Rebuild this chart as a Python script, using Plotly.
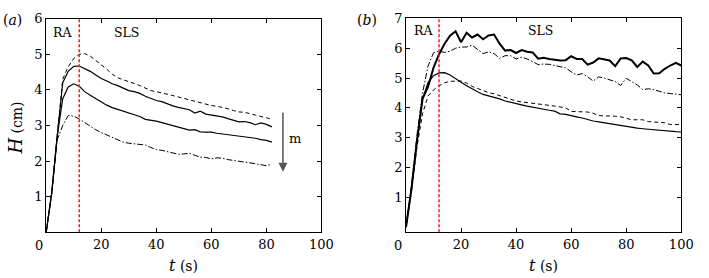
import plotly.graph_objects as go

# ---------------- data ----------------
t_a = list(range(0, 83, 2))
a_dashed = [0, 1.1, 2.7, 4.3, 4.65, 4.88, 5.0, 5.02, 4.95, 4.83, 4.7, 4.58, 4.44, 4.34, 4.28, 4.24,
            4.18, 4.12, 4.05, 3.98, 3.95, 3.92, 3.88, 3.84, 3.8, 3.76, 3.72, 3.68, 3.63, 3.59, 3.56,
            3.54, 3.51, 3.47, 3.42, 3.38, 3.37, 3.34, 3.29, 3.25, 3.22, 3.16]
a_solid_hi = [0, 1.1, 2.7, 4.2, 4.52, 4.66, 4.67, 4.6, 4.52, 4.42, 4.32, 4.25, 4.17, 4.12, 4.05, 3.98,
              3.95, 3.9, 3.82, 3.75, 3.7, 3.67, 3.6, 3.55, 3.51, 3.48, 3.44, 3.35, 3.4, 3.32, 3.3,
              3.27, 3.24, 3.19, 3.15, 3.1, 3.11, 3.08, 3.02, 3.07, 3.03, 2.96]
a_solid_lo = [0, 1.1, 2.7, 3.75, 4.08, 4.17, 4.1, 3.95, 3.85, 3.75, 3.65, 3.57, 3.5, 3.45, 3.38, 3.33,
              3.29, 3.25, 3.17, 3.15, 3.12, 3.08, 3.04, 3.0, 2.95, 2.91, 2.87, 2.88, 2.82, 2.81, 2.81,
              2.78, 2.76, 2.75, 2.73, 2.69, 2.68, 2.67, 2.64, 2.6, 2.58, 2.53]
a_dashdot = [0, 1.1, 2.6, 3.0, 3.28, 3.26, 3.18, 3.08, 2.97, 2.88, 2.8, 2.73, 2.65, 2.6, 2.53, 2.5,
             2.48, 2.47, 2.45, 2.38, 2.32, 2.3, 2.26, 2.22, 2.19, 2.2, 2.22, 2.16, 2.11, 2.1, 2.06,
             2.09, 2.08, 2.04, 2.01, 1.98, 1.97, 1.95, 1.93, 1.9, 1.87, 1.91]

t_b = list(range(0, 101, 2))
b_thick = [0, 1.3, 2.9, 4.3, 4.7, 5.35, 5.8, 6.15, 6.42, 6.57, 6.2, 6.52, 6.36, 6.46, 6.3, 6.43,
           6.46, 6.15, 5.92, 5.94, 5.84, 5.94, 5.88, 5.86, 5.65, 5.68, 5.64, 5.61, 5.59, 5.6, 5.73,
           5.64, 5.64, 5.45, 5.52, 5.66, 5.63, 5.59, 5.4, 5.66, 5.67, 5.59, 5.37, 5.55, 5.42, 5.15,
           5.16, 5.31, 5.42, 5.51, 5.42]
b_dashdot = [0, 1.4, 3.1, 4.5, 5.4, 5.85, 5.9, 5.86, 5.9, 6.0, 6.04, 6.04, 6.1, 5.96, 5.82, 5.88,
             5.82, 5.66, 5.75, 5.75, 5.64, 5.7, 5.64, 5.55, 5.45, 5.47, 5.46, 5.42, 5.38, 5.34, 5.21,
             5.1, 5.15, 5.04, 4.9, 5.04, 5.0, 4.95, 4.88, 4.75, 4.99, 4.88, 4.77, 4.61, 4.64, 4.61,
             4.55, 4.5, 4.48, 4.46, 4.44]
b_solid = [0, 1.3, 2.9, 4.3, 4.85, 5.08, 5.17, 5.18, 5.1, 4.99, 4.86, 4.74, 4.63, 4.54, 4.45, 4.4,
           4.36, 4.3, 4.23, 4.18, 4.14, 4.1, 4.06, 4.02, 3.98, 3.96, 3.92, 3.89, 3.8, 3.78, 3.73,
           3.7, 3.66, 3.6, 3.56, 3.53, 3.5, 3.47, 3.44, 3.41, 3.36, 3.34, 3.32, 3.3, 3.28, 3.27,
           3.26, 3.24, 3.22, 3.2, 3.19]
b_dashed = [0, 1.2, 2.7, 3.8, 4.4, 4.6, 4.74, 4.84, 4.89, 4.9, 4.9, 4.83, 4.72, 4.65, 4.57, 4.51,
            4.47, 4.41, 4.35, 4.28, 4.23, 4.2, 4.18, 4.15, 4.12, 4.1, 4.08, 4.06, 4.03, 4.0, 3.88,
            3.88, 3.88, 3.86, 3.82, 3.74, 3.73, 3.73, 3.72, 3.7, 3.65, 3.6, 3.6, 3.6, 3.54, 3.52,
            3.52, 3.5, 3.44, 3.44, 3.44]

t_transition = 12
x_ticks = [0, 20, 40, 60, 80, 100]
ya_ticks = [1, 2, 3, 4, 5, 6]
yb_ticks = [1, 2, 3, 4, 5, 6, 7]

FONT = "DejaVu Serif, serif"
W, H = 709, 278

fig = go.Figure()

def line(x, y, xa, ya, dash="solid", width=1.0):
    fig.add_trace(go.Scatter(x=x, y=y, xaxis=xa, yaxis=ya, mode="lines",
                             line=dict(color="black", width=width, dash=dash),
                             showlegend=False, hoverinfo="skip"))

DASH = "4px,3px"
DASHDOT = "6px,2px,1.5px,2px"

line(t_a, a_dashed, "x", "y", DASH, 1.0)
line(t_a, a_solid_hi, "x", "y", "solid", 1.2)
line(t_a, a_solid_lo, "x", "y", "solid", 1.2)
line(t_a, a_dashdot, "x", "y", DASHDOT, 1.0)

line(t_b, b_dashed, "x2", "y2", DASH, 1.0)
line(t_b, b_solid, "x2", "y2", "solid", 1.2)
line(t_b, b_dashdot, "x2", "y2", DASHDOT, 1.0)
line(t_b, b_thick, "x2", "y2", "solid", 2.0)

# red transition lines
fig.add_trace(go.Scatter(x=[t_transition, t_transition], y=[0, 6], xaxis="x", yaxis="y",
                         mode="lines", line=dict(color="#ff1a1a", width=1.5, dash="3px,2px"),
                         showlegend=False, hoverinfo="skip"))
fig.add_trace(go.Scatter(x=[t_transition, t_transition], y=[-0.17, 7], xaxis="x2", yaxis="y2",
                         mode="lines", line=dict(color="#ff1a1a", width=1.5, dash="3px,2px"),
                         showlegend=False, hoverinfo="skip"))

def px_x(p):
    return p / W

def px_y(p):
    return 1 - p / H

axis_common = dict(showgrid=False, zeroline=False, showline=True, linecolor="black", linewidth=1,
                   mirror="ticks", ticks="inside", ticklen=4, tickcolor="black", tickwidth=1,
                   tickfont=dict(family=FONT, size=13, color="black"))

fig.update_layout(
    width=W, height=H, margin=dict(l=0, r=0, t=0, b=0),
    paper_bgcolor="white", plot_bgcolor="white",
    font=dict(family=FONT, size=13, color="black"),
    xaxis=dict(domain=[px_x(47), px_x(327)], range=[0, 100], tickvals=x_ticks,
               ticktext=["" if v == 0 else str(v) for v in x_ticks], anchor="y", **axis_common),
    yaxis=dict(domain=[px_y(231), px_y(12)], range=[0, 6], tickvals=ya_ticks, anchor="x",
               **axis_common),
    xaxis2=dict(domain=[px_x(413), px_x(693)], range=[0, 100], tickvals=x_ticks,
                ticktext=["" if v == 0 else str(v) for v in x_ticks], anchor="y2", **axis_common),
    yaxis2=dict(domain=[px_y(231), px_y(11.7)], range=[-0.17, 7], tickvals=yb_ticks, anchor="x2",
                **axis_common),
)

ann = []
def txt(x, y, s, size=13, xref="paper", yref="paper", **kw):
    ann.append(dict(x=x, y=y, xref=xref, yref=yref, text=s, showarrow=False,
                    xanchor="center", yanchor="middle",
                    font=dict(family=FONT, size=size, color="black"), **kw))

# zero tick labels (offset left of the corner like the original)
txt(px_x(40), px_y(245), "0")
txt(px_x(405), px_y(245), "0")
# panel labels
txt(px_x(13), px_y(13), "(<i>a</i>)", 14)
txt(px_x(373), px_y(13), "(<i>b</i>)", 14)
# axis titles
txt(px_x(187), px_y(265), "<span style='font-size:16px'><i>t</i></span> (s)", 14)
txt(px_x(553), px_y(265), "<span style='font-size:16px'><i>t</i></span> (s)", 14)
txt(px_x(16), px_y(124), "<span style='font-size:18px'><i>H</i></span> (cm)", 14, textangle=-90)
# regime labels
txt(5.8, 5.6, "RA", 12.5, xref="x", yref="y")
txt(29, 5.6, "SLS", 12.5, xref="x", yref="y")
txt(6.4, 6.58, "RA", 12.5, xref="x2", yref="y2")
txt(49, 6.58, "SLS", 12.5, xref="x2", yref="y2")
txt(90.5, 2.63, "m", 13, xref="x", yref="y")

# arrow (m increasing)
ann.append(dict(x=86, y=1.7, ax=86, ay=3.4, xref="x", yref="y", axref="x", ayref="y",
                showarrow=True, arrowhead=2, arrowsize=1.2, arrowwidth=1.5, arrowcolor="#555555",
                text=""))

fig.update_layout(annotations=ann)
fig.write_html("out.html", config={"displayModeBar": False},
               post_script="document.body.style.margin='0';")
